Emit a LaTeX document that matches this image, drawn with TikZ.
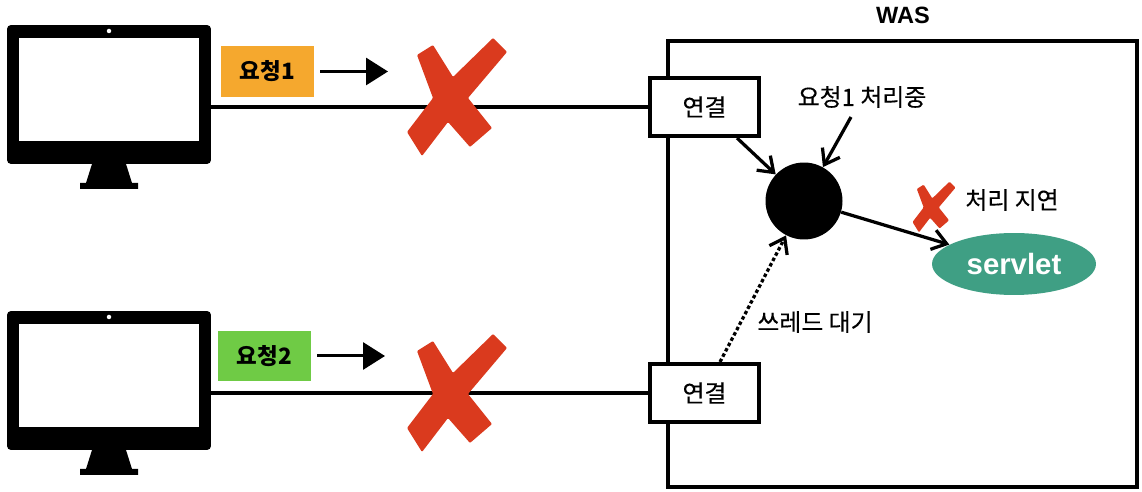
\documentclass[tikz,border=0pt]{standalone}
\usepackage{fontspec}
\usepackage{xcolor}
\setmainfont{Noto Sans CJK KR}
\newfontfamily\medfont[FakeBold=0.25]{Noto Sans CJK KR}
\newfontfamily\latinfont{Liberation Sans}
\usetikzlibrary{arrows.meta,shapes.geometric}
\definecolor{crossred}{HTML}{DA3A1E}
\definecolor{reqorange}{HTML}{F5A82E}
\definecolor{reqgreen}{HTML}{6FCB45}
\definecolor{servletgreen}{HTML}{3F9F84}
\tikzset{
monbody/.style={fill=black,rounded corners=0.08cm,minimum width=4.08cm,minimum height=2.78cm,inner sep=0pt},
monscreen/.style={fill=white,minimum width=3.6cm,minimum height=2.06cm,inner sep=0pt},
camdot/.style={circle,fill=white,minimum size=0.09cm,inner sep=0pt},
connbox/.style={draw,fill=white,line width=0.07cm,minimum width=2.18cm,minimum height=1.16cm,inner sep=0pt,font=\medfont\fontsize{13.6}{15}\selectfont},
reqbox/.style={minimum width=1.86cm,minimum height=1.02cm,inner sep=0pt,font=\fontsize{12.8}{14}\bfseries\selectfont},
txt/.style={inner sep=0pt,font=\medfont\fontsize{13.6}{15}\selectfont},
line/.style={line width=0.065cm},
barb/.style={line width=0.065cm,-{Straight Barb[length=0.28cm,width=0.4cm]}},
reqarrow/.style={line width=0.06cm,-{Triangle[length=0.44cm,width=0.54cm]},shorten <=0.12cm},
pics/redcross/.style={code={
\fill[crossred,rounded corners=0.02cm](-40,-42)--(-24,-52)--(-4,-20)--(36,-59)--(50,-45)--(11,1)--(35,31)--(13,50)--(-9,25)--(-35,59)--(-50,35)--(-24,1)--cycle;
}},
pics/monitorstand/.style={code={
\fill(-17,0)--(17,0)--(23,19)--(29,19)--(29,25)--(-29,25)--(-29,19)--(-23,19)--cycle;
}}
}
\begin{document}
\begin{tikzpicture}[x=0.02cm,y=-0.02cm]
\useasboundingbox(0,0)rectangle(1142,492);
\draw[line width=0.07cm](668,41)rectangle(1137,487);
\node[inner sep=0pt,font=\latinfont\fontsize{13.4}{15}\bfseries\selectfont](was)at(903,15){WAS};
\pic at(109,164){monitorstand};
\node[monbody](mon1)at(109,94.5){};
\node[monscreen](screen1)at(109,89.5){};
\node[camdot](cam1)at(109,31){};
\pic at(109,450){monitorstand};
\node[monbody](mon2)at(109,380.5){};
\node[monscreen](screen2)at(109,375.5){};
\node[camdot](cam2)at(109,317){};
\node[connbox](conn1)at(704.5,107){연결};
\node[connbox](conn2)at(704.5,393){연결};
\coordinate(out1)at(211,107);
\coordinate(out2)at(211,393);
\draw[line](out1)--(conn1);
\draw[line](out2)--(conn2);
\pic at(457,97){redcross};
\pic at(457,393){redcross};
\pic[scale=0.43] at(934,207){redcross};
\node[reqbox,fill=reqorange](req1)at(267.5,71.5){요청1};
\node[reqbox,fill=reqgreen](req2)at(264.5,356){요청2};
\coordinate(tip1)at(388,71.5);
\coordinate(tip2)at(385,356);
\draw[reqarrow](req1)--(tip1);
\draw[reqarrow](req2)--(tip2);
\node[circle,fill=black,minimum size=1.54cm,inner sep=0pt](thread)at(804,201){};
\node[ellipse,fill=servletgreen,minimum width=3.28cm,minimum height=1.24cm,inner sep=0pt,text=white,font=\latinfont\fontsize{16.7}{18}\bfseries\selectfont](servlet)at(1014,264){servlet};
\node[txt](busy)at(862,97){요청1 처리중};
\node[txt](delay)at(1012,200){처리 지연};
\node[txt](wait)at(815,322){쓰레드 대기};
\coordinate(from1)at(737,138);
\coordinate(frombusy)at(851,117);
\coordinate(fromwait)at(720,362);
\draw[barb](from1)--(thread);
\draw[barb](frombusy)--(thread);
\draw[barb](thread)--(servlet);
\draw[barb,dash pattern=on 0.07cm off 0.05cm](fromwait)--(thread);
\end{tikzpicture}
\end{document}
